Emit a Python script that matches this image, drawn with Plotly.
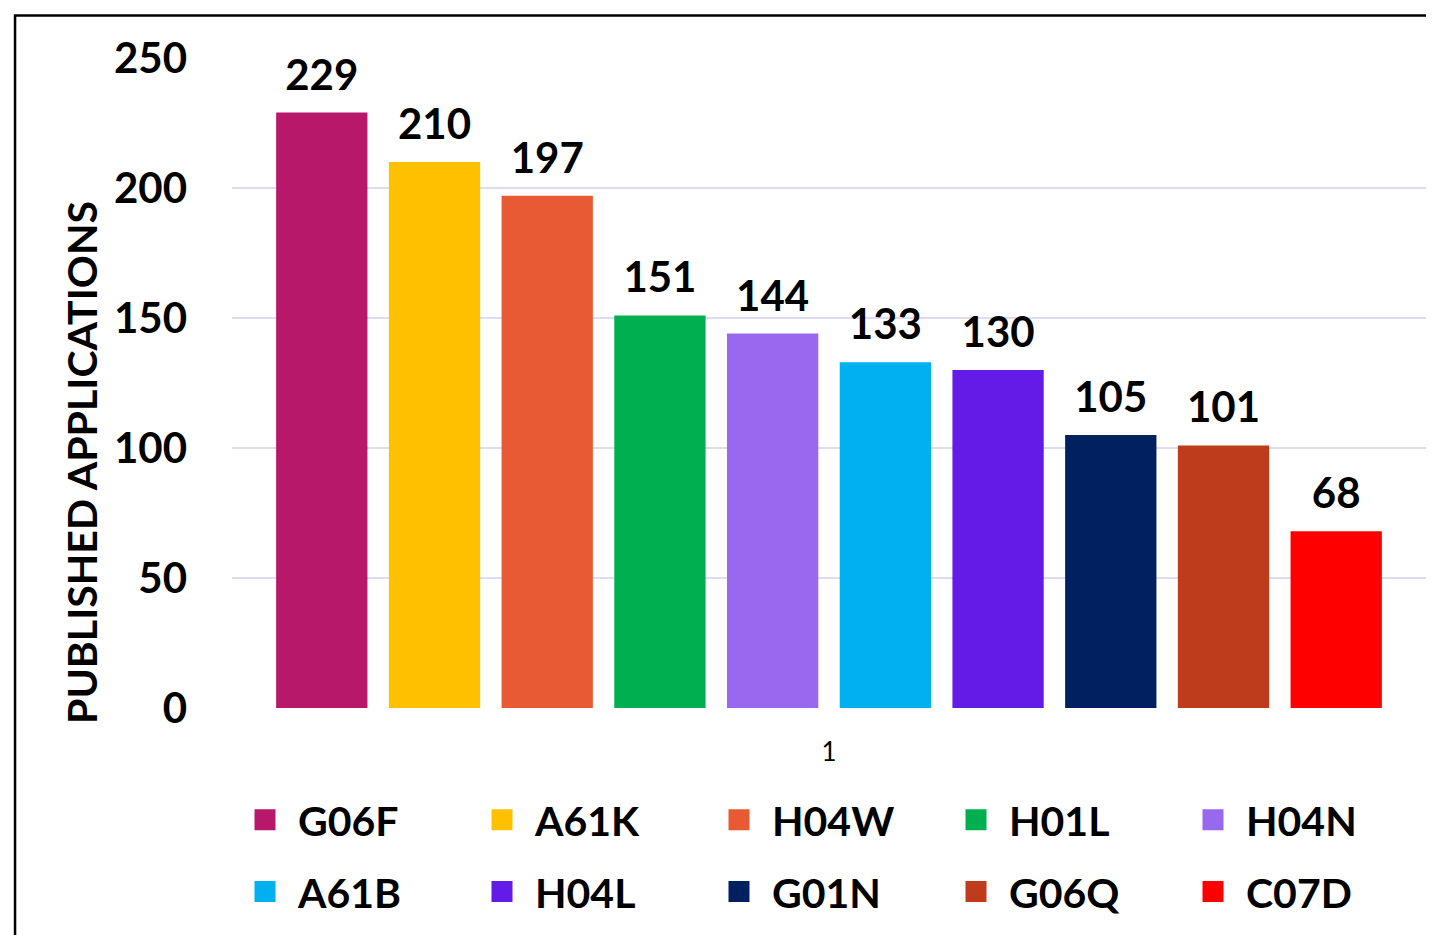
import plotly.graph_objects as go

categories = ["G06F", "A61K", "H04W", "H01L", "H04N", "A61B", "H04L", "G01N", "G06Q", "C07D"]
values = [229, 210, 197, 151, 144, 133, 130, 105, 101, 68]
colors = ["#b8186a", "#ffc000", "#e85a33", "#00b050", "#9868ee",
          "#00b0f0", "#651be8", "#002060", "#be3b1b", "#ff0000"]
x_label = ["1"]
y_ticks = [0, 50, 100, 150, 200, 250]
y_title = "PUBLISHED APPLICATIONS"

FONT = "Lato"
# invisible wide-descent spacer keeps the value labels lifted off the bar tops
SPACER = "<span style='font-size:96px'>\u00a0</span>"

fig = go.Figure()

for cat, val, col in zip(categories, values, colors):
    fig.add_trace(go.Bar(
        x=x_label, y=[val], name=cat, marker=dict(color=col, line=dict(width=0)),
        text=[val], texttemplate=SPACER + "<b>%{text}</b>" + SPACER,
        textposition="outside", constraintext="none",
        textfont=dict(family=FONT, size=42, color="black"),
        cliponaxis=False, showlegend=False, hoverinfo="skip",
    ))

for i, (cat, col) in enumerate(zip(categories, colors)):
    fig.add_trace(go.Scatter(
        x=[None], y=[None], mode="markers", name=cat,
        marker=dict(symbol="square", size=16, color=col, line=dict(color=col, width=5)),
        legend="legend" if i < 5 else "legend2", showlegend=True,
    ))

legend_common = dict(
    orientation="h", xanchor="left", yanchor="middle",
    font=dict(family=FONT, size=41, color="black", weight="bold"),
    itemwidth=56, entrywidth=166, entrywidthmode="pixels", bgcolor="rgba(0,0,0,0)",
    itemclick=False, itemdoubleclick=False,
)

fig.update_layout(
    width=1426, height=927,
    margin=dict(l=224, r=8, t=50, b=227, autoexpand=False),
    paper_bgcolor="white", plot_bgcolor="white",
    barmode="group", bargap=0.056, bargroupgap=0.19,
    font=dict(family=FONT, color="black"),
    legend=dict(x=0.0, y=-0.1723, **legend_common),
    legend2=dict(x=0.0, y=-0.283, **legend_common),
    xaxis=dict(
        type="category", showgrid=False, showline=False, zeroline=False,
        tickfont=dict(family=FONT, size=26, color="black"),
        ticks="", ticklabelstandoff=26,
    ),
    yaxis=dict(
        range=[0, 250], tickvals=y_ticks, showgrid=True,
        gridcolor="#dedcf0", gridwidth=2, zeroline=False, showline=False,
        tickfont=dict(family=FONT, size=42, color="black", weight="bold"),
        ticks="", ticklabelstandoff=44,
    ),
    annotations=[dict(
        text="<b>" + y_title + "</b>", textangle=-90, xref="paper", yref="paper",
        x=-0.1256, y=0.377, xanchor="center", yanchor="middle", showarrow=False,
        font=dict(family=FONT, size=41, color="black"),
    )],
    shapes=[dict(
        type="rect", xref="paper", yref="paper",
        x0=-0.1817, y0=-0.6, x1=1.3, y1=1.0654,
        line=dict(color="black", width=2.5), fillcolor="rgba(0,0,0,0)", layer="below",
    )],
)

fig.write_html("out.html")
